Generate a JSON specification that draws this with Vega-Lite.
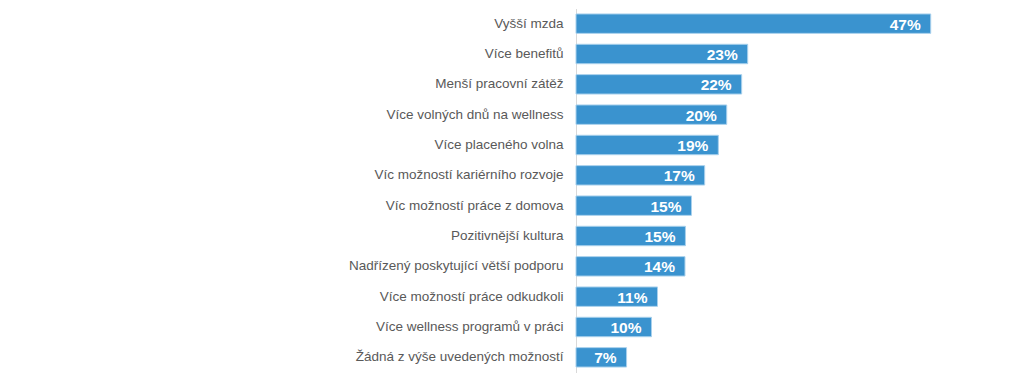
{
  "$schema": "https://vega.github.io/schema/vega-lite/v6.json",
  "autosize": {"type": "none"},
  "padding": {"left": 576, "top": 8.5, "right": 48, "bottom": 15.5},
  "width": 400,
  "height": 364,
  "background": "white",
  "data": {
    "values": [
      {"k": "Vyšší mzda", "v": 47.0, "t": "47%"},
      {"k": "Více benefitů", "v": 22.75, "t": "23%"},
      {"k": "Menší pracovní zátěž", "v": 21.95, "t": "22%"},
      {"k": "Více volných dnů na wellness", "v": 19.97, "t": "20%"},
      {"k": "Více placeného volna", "v": 18.86, "t": "19%"},
      {"k": "Víc možností kariérního rozvoje", "v": 17.05, "t": "17%"},
      {"k": "Víc možností práce z domova", "v": 15.3, "t": "15%"},
      {"k": "Pozitivnější kultura", "v": 14.5, "t": "15%"},
      {"k": "Nadřízený poskytující větší podporu", "v": 14.44, "t": "14%"},
      {"k": "Více možností práce odkudkoli", "v": 10.8, "t": "11%"},
      {"k": "Více wellness programů v práci", "v": 10.0, "t": "10%"},
      {"k": "Žádná z výše uvedených možností", "v": 6.7, "t": "7%"}
    ]
  },
  "encoding": {
    "y": {
      "field": "k", "type": "nominal", "sort": null, "title": null,
      "scale": {"paddingInner": 0.36, "paddingOuter": 0.18},
      "axis": {
        "ticks": false, "labelPadding": 13, "labelFont": "Liberation Sans",
        "labelFontSize": 13.5, "labelColor": "#595959", "domainColor": "#d9d9d9",
        "labelLimit": 400
      }
    },
    "x": {
      "field": "v", "type": "quantitative", "title": null,
      "scale": {"domain": [0, 53], "nice": false, "zero": true},
      "axis": null
    }
  },
  "layer": [
    {
      "mark": {"type": "bar", "color": "#3a93cf", "stroke": "#a8d0ec", "strokeWidth": 1}
    },
    {
      "mark": {"type": "text", "align": "right", "baseline": "middle", "dx": -10, "dy": 1,
        "font": "Liberation Sans", "fontSize": 15.5, "fontWeight": "bold", "color": "white"},
      "encoding": {"text": {"field": "t"}}
    }
  ],
  "config": {"view": {"stroke": null}}
}
